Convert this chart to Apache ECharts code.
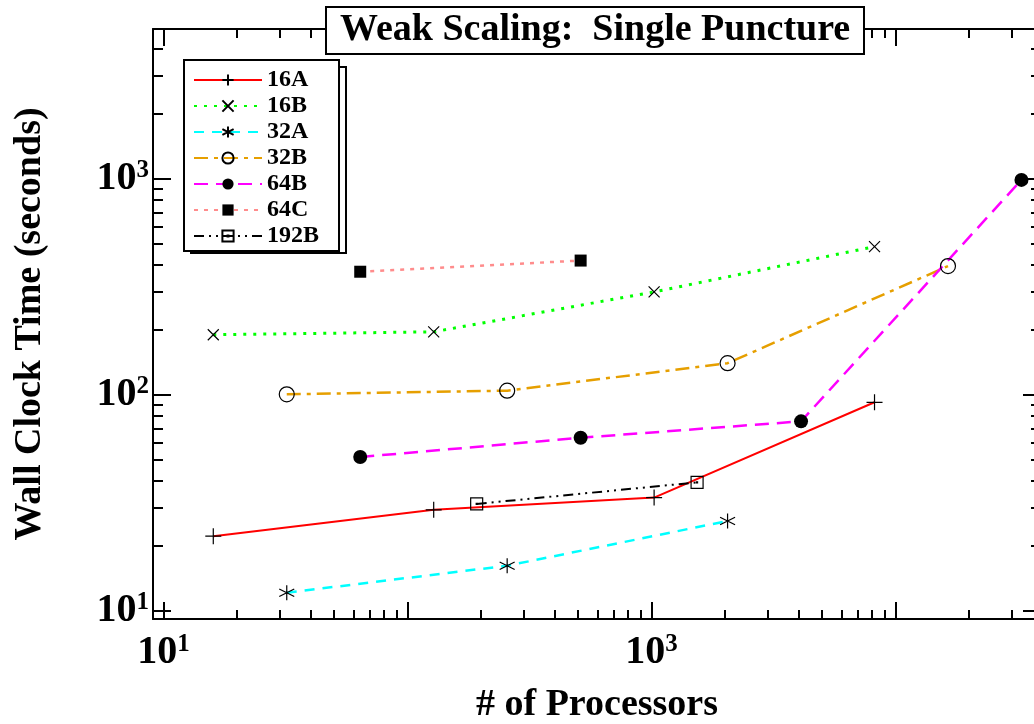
<!DOCTYPE html>
<html>
<head>
<meta charset="utf-8">
<script src="https://cdn.jsdelivr.net/npm/echarts@6/dist/echarts.min.js"></script>
<style>
    html, body { margin: 0; padding: 0; background: #fff; }
    #chart { width: 1034px; height: 724px; }
</style>
</head>
<body>
<div id="chart"></div>
<script>
// data
const procs16 = [16, 128, 1024, 8192];
const procs32 = [32, 256, 2048, 16384];
const procs64 = [64, 512, 4096, 32768];
const procs192 = [192, 1536];

const time16A = [22.2, 29.4, 33.5, 92.5];
const time16B = [190, 196, 300, 486];
const time32A = [12.15, 16.2, 26.1];
const time32B = [100.7, 104.7, 140.3, 395];
const time64B = [51.6, 63.4, 75.5, 990];
const time64C = [372, 419];
const time192B = [31.3, 39.4];

// ticks
const xMajorTicks = [10, 100, 1000, 10000];
const xMinorTicks = [20, 30, 40, 50, 60, 70, 80, 90,
    200, 300, 400, 500, 600, 700, 800, 900,
    2000, 3000, 4000, 5000, 6000, 7000, 8000, 9000,
    20000, 30000];
const xTickLabels = [10, 1000];
const yMajorTicks = [10, 100, 1000];
const yMinorTicks = [20, 30, 40, 50, 60, 70, 80, 90,
    200, 300, 400, 500, 600, 700, 800, 900,
    2000, 3000, 4000];
const yTickLabels = [10, 100, 1000];

const xMin = 9.06, xMax = 39400;
const yMin = 9.18, yMax = 4946;

const serif = "'Liberation Serif', 'DejaVu Serif', serif";

const plusPath = 'path://M0,5L10,5M5,0L5,10';
const crossPath = 'path://M0,0L10,10M10,0L0,10';
const starPath = 'path://M5,0L5,10M0.7,2.5L9.3,7.5M9.3,2.5L0.7,7.5';
const boxDotPath = 'path://M0,0L10,0L10,10L0,10ZM4.6,4.6L5.4,4.6L5.4,5.4L4.6,5.4Z';

const chart = echarts.init(document.getElementById('chart'), null, { renderer: 'canvas' });

function pairs(xs, ys) {
    return ys.map((y, i) => [xs[i], y]);
}

function powLabel(v) {
    return '{b|10}{s|' + Math.round(Math.log10(v)) + '}';
}

const labelRich = {
    b: { fontFamily: serif, fontWeight: 'bold', fontSize: 40, color: '#000' },
    s: { fontFamily: serif, fontWeight: 'bold', fontSize: 25, color: '#000', verticalAlign: 'top', padding: [0, 0, 16, 0] }
};

const tickLine = { color: '#000', width: 2 };

function xAxisOf(pos, major) {
    return {
        type: 'log', logBase: 10, min: xMin, max: xMax, position: pos,
        axisLine: { show: major, onZero: false, lineStyle: tickLine },
        axisTick: { inside: true, length: major ? 17 : 9, customValues: major ? xMajorTicks : xMinorTicks, lineStyle: tickLine },
        axisLabel: { show: false },
        splitLine: { show: false },
        minorTick: { show: false }
    };
}

function yAxisOf(pos, major) {
    return {
        type: 'log', logBase: 10, min: yMin, max: yMax, position: pos,
        axisLine: { show: major, onZero: false, lineStyle: tickLine },
        axisTick: { inside: true, length: major ? 18 : 10, customValues: major ? yMajorTicks : yMinorTicks, lineStyle: tickLine },
        axisLabel: { show: false },
        splitLine: { show: false },
        minorTick: { show: false }
    };
}

const xMain = xAxisOf('bottom', true);
xMain.axisLabel = { show: true, customValues: xTickLabels, formatter: powLabel, rich: labelRich, margin: 13 };
xMain.name = '# of Processors';
xMain.nameLocation = 'middle';
xMain.nameGap = 67;
xMain.nameTextStyle = { fontFamily: serif, fontWeight: 'bold', fontSize: 38, color: '#000' };

const yMain = yAxisOf('left', true);
yMain.axisLabel = { show: true, customValues: yTickLabels, formatter: powLabel, rich: labelRich, margin: 4 };
yMain.name = 'Wall Clock Time (seconds)';
yMain.nameLocation = 'middle';
yMain.nameGap = 104;
yMain.nameTextStyle = { fontFamily: serif, fontWeight: 'bold', fontSize: 38, color: '#000' };

const openStyle = { color: 'rgba(0,0,0,0)', borderColor: '#000', borderWidth: 1.2 };
const fillStyle = { color: '#000', borderColor: '#000', borderWidth: 0 };

function lineSeries(name, xs, ys, symbol, size, item, color, type, width) {
    return {
        name: name, type: 'line', xAxisIndex: 0, yAxisIndex: 0,
        data: pairs(xs, ys),
        symbol: symbol, symbolSize: size, showAllSymbol: true,
        itemStyle: item,
        lineStyle: { color: color, type: type, width: width || 2 },
        emphasis: { disabled: true },
        z: 3
    };
}

const option = {
    animation: false,
    backgroundColor: '#fff',
    title: {
        text: 'Weak Scaling:  Single Puncture',
        left: 326, top: 7,
        padding: [4, 14, 5, 14],
        backgroundColor: '#fff',
        borderColor: '#000', borderWidth: 2,
        textStyle: { fontFamily: serif, fontWeight: 'bold', fontSize: 38, color: '#000' },
        z: 10
    },
    grid: { left: 153, top: 29, width: 888, height: 590, containLabel: false, outerBoundsMode: 'none' },
    legend: {
        orient: 'vertical', left: 184, top: 60,
        padding: [8, 20, 3, 9],
        itemWidth: 68, itemHeight: 14, itemGap: 2,
        backgroundColor: '#fff', borderColor: '#000', borderWidth: 2, borderRadius: 0,
        textStyle: { fontFamily: serif, fontWeight: 'bold', fontSize: 24, color: '#000', lineHeight: 24 },
        data: ['16A', '16B', '32A', '32B', '64B', '64C', '192B'],
        selectedMode: false,
        z: 6
    },
    graphic: [{
        type: 'rect', left: 190, top: 66, z: 5,
        shape: { width: 155, height: 186 },
        style: { fill: '#fff', stroke: '#000', lineWidth: 2 }
    }],
    xAxis: [xMain, xAxisOf('bottom', false), xAxisOf('top', true), xAxisOf('top', false)],
    yAxis: [yMain, yAxisOf('left', false), yAxisOf('right', true), yAxisOf('right', false)],
    series: [
        lineSeries('16A', procs16, time16A, plusPath, 16, openStyle, '#ff0000', 'solid', 2),
        lineSeries('16B', procs16, time16B, crossPath, 11, openStyle, '#00ff00', [3, 7], 3),
        lineSeries('32A', procs32, time32A, starPath, 15, openStyle, '#00ffff', [10, 8], 2.5),
        lineSeries('32B', procs32, time32B, 'circle', 15, openStyle, '#e69f00', [14, 6, 4, 6], 2.5),
        lineSeries('64B', procs64, time64B, 'circle', 14, fillStyle, '#ff00ff', [14, 8], 2.5),
        lineSeries('64C', procs64, time64C, 'rect', 12, fillStyle, '#ff8c8c', [4, 6], 2.5),
        lineSeries('192B', procs192, time192B, boxDotPath, 12, openStyle, '#000000', [10, 5, 2, 5, 2, 5], 2)
    ]
};

chart.setOption(option);
</script>
</body>
</html>
